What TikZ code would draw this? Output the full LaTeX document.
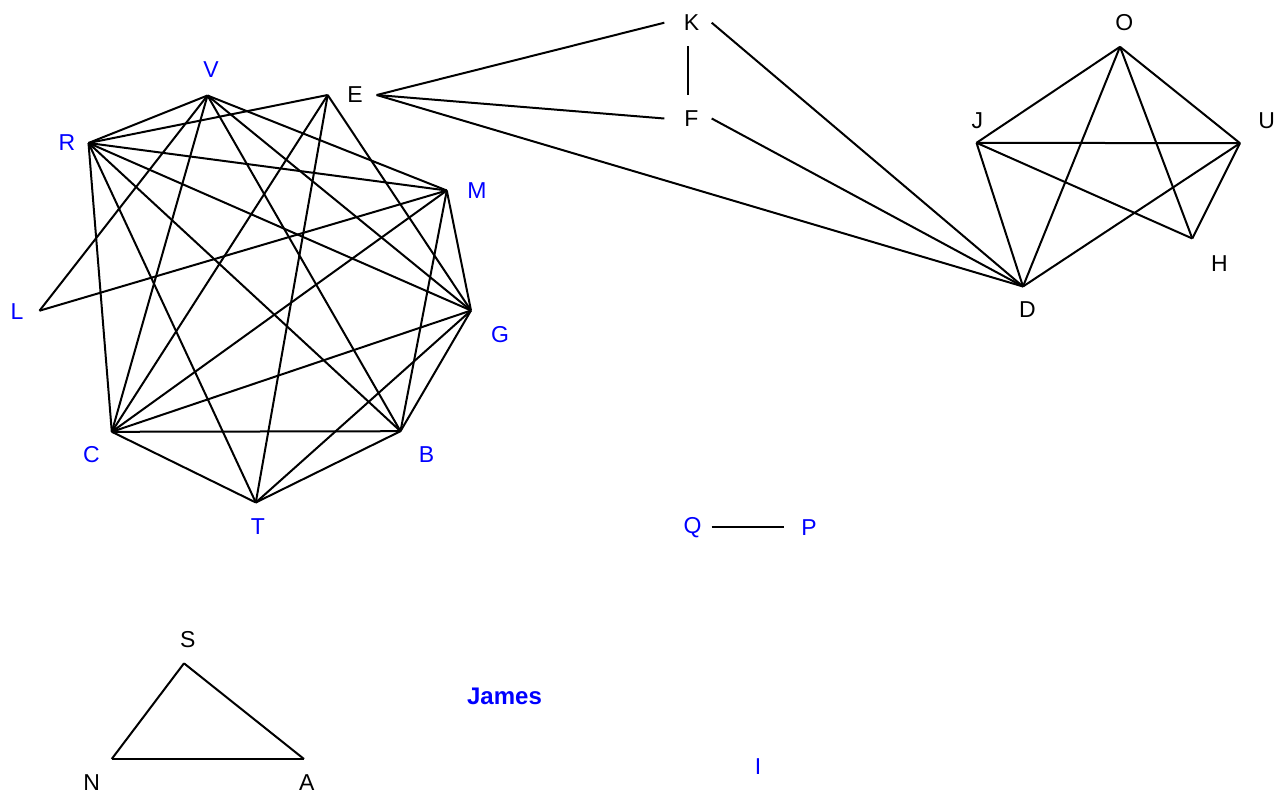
\documentclass[tikz,border=0pt]{standalone}
\usepackage{fontspec}
\setmainfont{Liberation Sans}
\begin{document}
\begin{tikzpicture}[x=1pt,y=-1pt,
  edge/.style={line width=2pt, black},
  lab/.style={font=\fontsize{23}{27}\selectfont, inner sep=0pt},
  blab/.style={lab, text=blue},
  klab/.style={lab, text=black},
  port/.style={lab, minimum width=47pt, minimum height=47pt}]
\useasboundingbox (0,0) rectangle (1277,793);

% ---- left cluster: vertex points
\coordinate (V) at (207.5,95.5);
\coordinate (Ev) at (327.7,95);
\coordinate (R) at (88.5,143);
\coordinate (M) at (446.8,190.5);
\coordinate (L) at (39.5,310.7);
\coordinate (G) at (471,310.5);
\coordinate (C) at (111.8,431.8);
\coordinate (B) at (400.5,431.2);
\coordinate (T) at (255.8,502.5);

% ---- left cluster: labels
\node[blab] (lV) at (211,70) {V};
\node[blab] (lR) at (67,143) {R};
\node[blab] (lM) at (477,191) {M};
\node[blab] (lL) at (17,312) {L};
\node[blab] (lG) at (500,335) {G};
\node[blab] (lC) at (91.5,455) {C};
\node[blab] (lB) at (426.5,455) {B};
\node[blab] (lT) at (258,527) {T};

% ---- labelled hubs joined at their sides
\node[port,text=black] (E) at (353,95) {\makebox[0pt]{\hspace{4pt}E}};
\node[port,text=black] (K) at (688,22.7) {\makebox[0pt]{\hspace{7pt}K}};
\node[port,text=black] (F) at (688,118.5) {\makebox[0pt]{\hspace{7pt}F}};
\node[port,text=blue] (Q) at (688,527.3) {\makebox[0pt]{\hspace{9pt}Q}};
\node[port,text=blue] (P) at (808,527.3) {\makebox[0pt]{\hspace{2pt}P}};

% ---- right cluster
\coordinate (O) at (1120,46.8);
\coordinate (J) at (976.5,142.8);
\coordinate (U) at (1240,143.2);
\coordinate (H) at (1192.3,238.5);
\coordinate (D) at (1023,286.5);
\node[klab] (lO) at (1124.3,22.7) {O};
\node[klab] (lJ) at (977.3,120.7) {J};
\node[klab] (lU) at (1266.7,120.7) {U};
\node[klab] (lH) at (1219.5,264) {H};
\node[klab] (lD) at (1027.3,310) {D};

% ---- triangle
\coordinate (S) at (184,663.3);
\coordinate (N) at (111.7,759);
\coordinate (A) at (304,759);
\node[klab] (lS) at (187.7,640) {S};
\node[klab] (lN) at (91.7,782.5) {N};
\node[klab] (lA) at (306.7,782.5) {A};

% ---- isolated labels
\node[blab, font=\fontsize{24}{28}\selectfont\bfseries] (James) at (504.5,696) {James};
\node[blab] (I) at (758,767) {I};

% ---- left cluster edges
\draw[edge] (R) -- (V);
\draw[edge] (R) -- (Ev);
\draw[edge] (R) -- (M);
\draw[edge] (R) -- (G);
\draw[edge] (R) -- (B);
\draw[edge] (R) -- (T);
\draw[edge] (R) -- (C);
\draw[edge] (V) -- (L);
\draw[edge] (V) -- (C);
\draw[edge] (V) -- (B);
\draw[edge] (V) -- (G);
\draw[edge] (V) -- (M);
\draw[edge] (Ev) -- (C);
\draw[edge] (Ev) -- (T);
\draw[edge] (Ev) -- (G);
\draw[edge] (M) -- (L);
\draw[edge] (M) -- (C);
\draw[edge] (M) -- (B);
\draw[edge] (M) -- (G);
\draw[edge] (G) -- (C);
\draw[edge] (G) -- (B);
\draw[edge] (G) -- (T);
\draw[edge] (C) -- (B);
\draw[edge] (C) -- (T);
\draw[edge] (B) -- (T);

% ---- hub edges
\draw[edge] (E.east) -- (K.west);
\draw[edge] (E.east) -- (F.west);
\draw[edge] (E.east) -- (D);
\draw[edge] (K.south) -- (F.north);
\draw[edge] (K.east) -- (D);
\draw[edge] (F.east) -- (D);
\draw[edge] (Q.east) -- (P.west);

% ---- right cluster edges
\draw[edge] (O) -- (J);
\draw[edge] (O) -- (U);
\draw[edge] (O) -- (D);
\draw[edge] (O) -- (H);
\draw[edge] (J) -- (U);
\draw[edge] (J) -- (H);
\draw[edge] (J) -- (D);
\draw[edge] (U) -- (D);
\draw[edge] (U) -- (H);

% ---- triangle edges
\draw[edge] (S) -- (N);
\draw[edge] (N) -- (A);
\draw[edge] (A) -- (S);
\end{tikzpicture}
\end{document}
